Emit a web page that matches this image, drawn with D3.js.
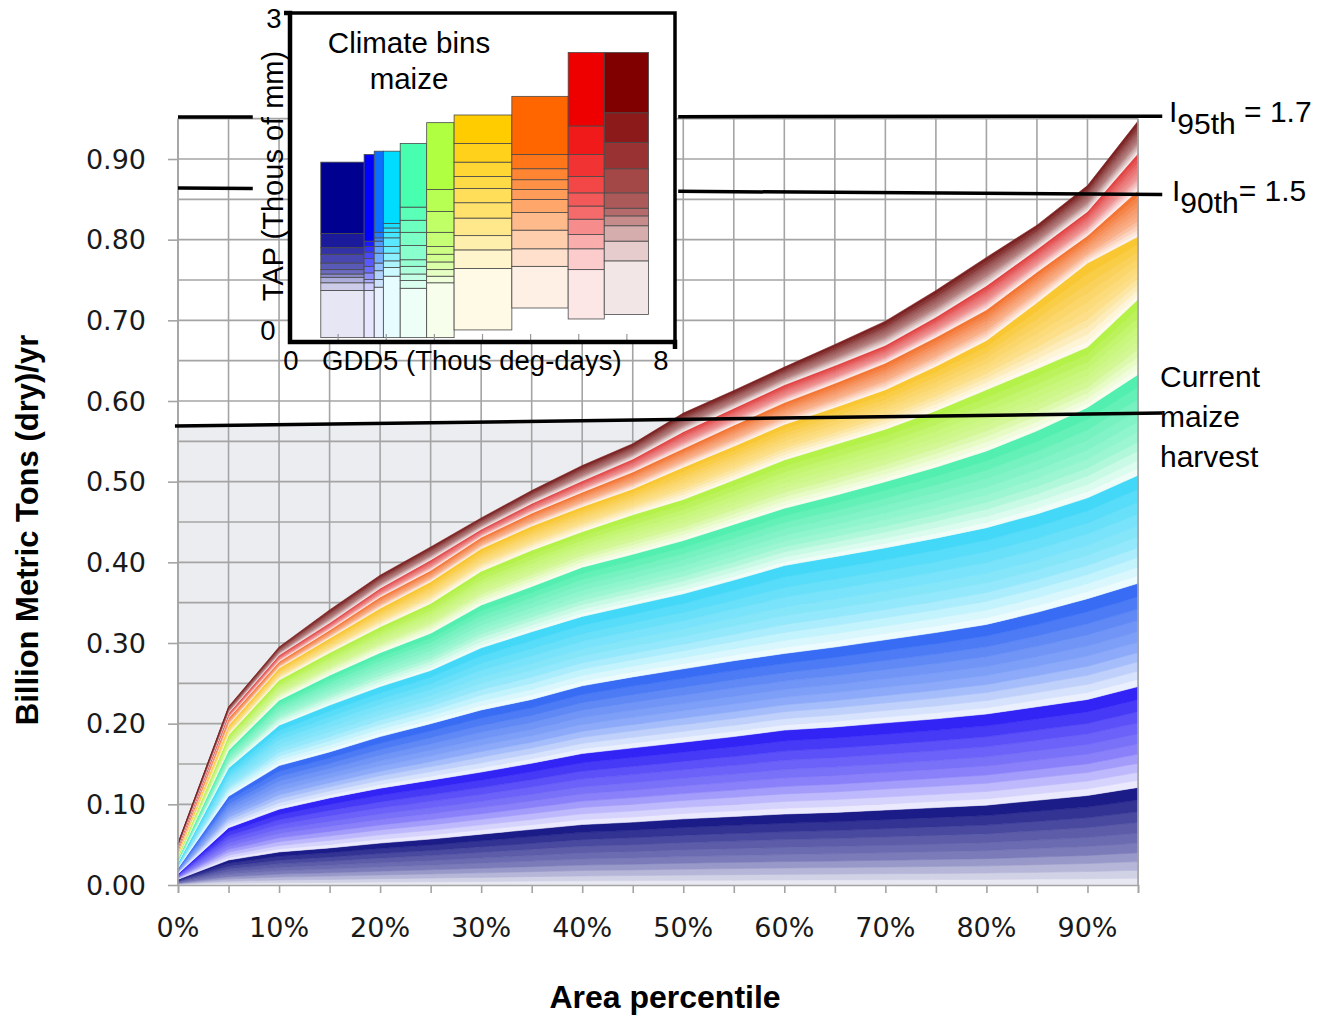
<!DOCTYPE html>
<html>
<head>
<meta charset="utf-8">
<title>Climate bins maize</title>
<script src="https://d3js.org/d3.v7.min.js"></script>
<style>
* { margin: 0; padding: 0; }
body { background: #fff; }
</style>
</head>
<body>
<div class="main"></div>
<script>
// area percentile (x) and yield of each GDD5 group, billion t/yr (layer thickness)
const areaPct = [0, 5, 10, 15, 20, 25, 30, 35, 40, 45, 50, 55, 60, 65, 70, 75, 80, 85, 90, 95];
const yieldNavy   = [.007,.031,.041,.046,.052,.057,.063,.069,.075,.078,.082,.085,.088,.090,.093,.096,.099,.105,.111,.121];
const yieldBlue   = [.007,.040,.053,.062,.068,.073,.077,.082,.088,.092,.095,.099,.104,.106,.108,.110,.113,.116,.119,.125];
const yieldAzure  = [.007,.039,.054,.057,.064,.070,.077,.079,.084,.088,.091,.094,.095,.099,.103,.107,.111,.117,.125,.128];
const yieldCyan   = [.007,.035,.050,.058,.062,.066,.077,.084,.086,.089,.093,.100,.109,.112,.114,.117,.120,.122,.125,.134];
const yieldGreen  = [.005,.022,.031,.037,.042,.046,.053,.056,.061,.063,.066,.069,.071,.076,.082,.088,.095,.103,.112,.125];
const yieldLime   = [.004,.019,.025,.028,.032,.037,.042,.045,.044,.049,.051,.055,.060,.063,.065,.070,.076,.077,.075,.093];
const yieldGold   = [.004,.012,.015,.018,.023,.027,.028,.030,.031,.032,.040,.042,.044,.046,.049,.055,.061,.082,.104,.078];
const yieldOrange = [.004,.009,.008,.010,.014,.014,.014,.016,.018,.021,.023,.026,.027,.030,.033,.036,.038,.038,.034,.057];
const yieldRed    = [.003,.006,.008,.009,.011,.013,.010,.012,.014,.016,.021,.021,.022,.022,.022,.025,.030,.028,.030,.046];
const yieldMaroon = [.004,.008,.010,.016,.016,.016,.014,.016,.019,.019,.023,.022,.022,.026,.030,.033,.035,.030,.032,.040];
// share of each group's yield per TAP bin (driest -> wettest)
const tapShare = [0.07, 0.08, 0.09, 0.09, 0.10, 0.10, 0.11, 0.11, 0.12, 0.13];

// inset: GDD5 bin edges and TAP bin edges for each GDD5 column
const gddEdges = [0.64, 1.54, 1.75, 1.94, 2.29, 2.84, 3.41, 4.61, 5.78, 6.53, 7.45];
const tapNavy   = [0.04, 0.47, 0.54, 0.59, 0.62, 0.66, 0.72, 0.80, 0.86, 0.99, 1.64];
const tapBlue   = [0.04, 0.47, 0.54, 0.57, 0.63, 0.69, 0.76, 0.82, 0.87, 0.92, 1.71];
const tapAzure  = [0.04, 0.50, 0.57, 0.65, 0.72, 0.81, 0.87, 0.92, 0.95, 1.00, 1.74];
const tapCyan   = [0.04, 0.60, 0.68, 0.74, 0.81, 0.87, 0.95, 1.00, 1.04, 1.08, 1.74];
const tapGreen  = [0.04, 0.49, 0.56, 0.62, 0.69, 0.75, 0.88, 1.00, 1.11, 1.23, 1.81];
const tapLime   = [0.04, 0.54, 0.60, 0.66, 0.73, 0.80, 0.87, 1.00, 1.19, 1.39, 2.00];
const tapGold   = [0.11, 0.67, 0.84, 0.97, 1.13, 1.27, 1.40, 1.51, 1.64, 1.81, 2.07];
const tapOrange = [0.31, 0.69, 0.85, 1.02, 1.18, 1.30, 1.39, 1.48, 1.58, 1.71, 2.24];
const tapRed    = [0.21, 0.66, 0.85, 0.98, 1.12, 1.24, 1.36, 1.51, 1.71, 1.97, 2.64];
const tapMaroon = [0.25, 0.74, 0.92, 1.06, 1.15, 1.22, 1.36, 1.58, 1.82, 2.09, 2.64];

const yTicks = [0, 0.1, 0.2, 0.3, 0.4, 0.5, 0.6, 0.7, 0.8, 0.9];
const xTickLabels = ["0%", "10%", "20%", "30%", "40%", "50%", "60%", "70%", "80%", "90%"];

const groupYields = [yieldNavy, yieldBlue, yieldAzure, yieldCyan, yieldGreen, yieldLime, yieldGold, yieldOrange, yieldRed, yieldMaroon];
const tapColumns = [tapNavy, tapBlue, tapAzure, tapCyan, tapGreen, tapLime, tapGold, tapOrange, tapRed, tapMaroon];

// colours
const mainColors  = ["#1c1c88", "#3324f6", "#386cf4", "#44d8f8", "#52efb0", "#b4f24a", "#f9c732", "#f47634", "#e24444", "#7c2222"];
const insetColors = ["#000090", "#0000ff", "#0a70ff", "#00dcff", "#48ffb0", "#b0ff40", "#ffcc00", "#ff6600", "#ee0000", "#800000"];
const fade = [0.9, 0.8, 0.68, 0.55, 0.42, 0.35, 0.28, 0.2, 0.1, 0];

const w = 1325;
const h = 1016;
const svg = d3.select(".main").append("svg").attr("width", w).attr("height", h);

const xScale = d3.scaleLinear().domain([0, 95]).range([178, 1138]);
const yScale = d3.scaleLinear().domain([0, 0.9]).range([885, 159]);

// hand drawn reference lines (data coords)
const harvestLine = [[-0.3, 0.569], [97.4, 0.585]];
const line95 = [[0, 0.952], [97.4, 0.953]];
const line90 = [[0, 0.864], [97.4, 0.856]];
const lineAt = (l, x) => l[0][1] + (l[1][1] - l[0][1]) * (x - l[0][0]) / (l[1][0] - l[0][0]);

// grey area below current harvest
svg.append("polygon")
  .attr("points", [[xScale(0), yScale(lineAt(harvestLine, 0))], [xScale(95), yScale(lineAt(harvestLine, 95))], [xScale(95), yScale(0)], [xScale(0), yScale(0)]].join(" "))
  .attr("fill", "#ecedf0");

// grid
const grid = svg.append("g").attr("stroke", "#a4a4a4").attr("stroke-width", 1.6);
grid.selectAll(".vg").data(areaPct).enter().append("line")
  .attr("x1", d => xScale(d)).attr("x2", d => xScale(d))
  .attr("y1", yScale(0)).attr("y2", yScale(0.95));
grid.selectAll(".hg").data(d3.range(0, 20)).enter().append("line")
  .attr("x1", xScale(0)).attr("x2", xScale(95))
  .attr("y1", d => yScale(d * 0.05)).attr("y2", d => yScale(d * 0.05));

// stacked layers
const keys = [];
groupYields.forEach((g, gi) => tapShare.forEach((s, ti) => keys.push(gi + "_" + ti)));
const table = areaPct.map((p, i) => {
  const row = { pct: p };
  groupYields.forEach((g, gi) => tapShare.forEach((s, ti) => { row[gi + "_" + ti] = g[i] * s; }));
  return row;
});
const series = d3.stack().keys(keys)(table);
const area = d3.area()
  .x(d => xScale(d.data.pct))
  .y0(d => yScale(d[0]))
  .y1(d => yScale(d[1]));
const layerColor = k => {
  const [gi, ti] = k.split("_").map(Number);
  return d3.interpolateRgb(mainColors[gi], "#ffffff")(fade[ti]);
};
svg.append("g").selectAll("path").data(series).enter().append("path")
  .attr("d", area)
  .attr("fill", d => layerColor(d.key))
  .attr("stroke", d => layerColor(d.key))
  .attr("stroke-width", 0.6);

// axes
const xAxis = d3.axisBottom(xScale).tickValues(areaPct).tickSize(8).tickFormat("");
const yAxis = d3.axisLeft(yScale).tickValues(yTicks).tickSize(10).tickFormat("");
svg.append("g").attr("transform", "translate(0,885)").call(xAxis)
  .call(g => g.selectAll("line,path").attr("stroke", "#a4a4a4").attr("stroke-width", 1.6));
svg.append("g").attr("transform", "translate(178,0)").call(yAxis)
  .call(g => g.select(".domain").remove())
  .call(g => g.selectAll("line").attr("stroke", "#a4a4a4").attr("stroke-width", 1.6));
svg.append("line").attr("x1", 178).attr("x2", 178).attr("y1", yScale(0.95)).attr("y2", 885)
  .attr("stroke", "#a4a4a4").attr("stroke-width", 1.6);
svg.append("line").attr("x1", xScale(95)).attr("x2", xScale(95)).attr("y1", yScale(0.95)).attr("y2", 885)
  .attr("stroke", "#a4a4a4").attr("stroke-width", 1.6);

svg.selectAll(".ylab").data(yTicks).enter().append("text")
  .attr("x", 146).attr("y", d => yScale(d)).attr("dy", "0.36em")
  .attr("text-anchor", "end")
  .style("font", "27px 'DejaVu Sans'").attr("fill", "#1a1a1a")
  .text(d => d.toFixed(2));
svg.selectAll(".xlab").data(xTickLabels).enter().append("text")
  .attr("x", (d, i) => xScale(i * 10)).attr("y", 937)
  .attr("text-anchor", "middle")
  .style("font", "27px 'DejaVu Sans'").attr("fill", "#1a1a1a")
  .text(d => d);

svg.append("text").attr("x", 665).attr("y", 1008).attr("text-anchor", "middle")
  .style("font", "bold 32px 'Liberation Sans'").text("Area percentile");
svg.append("text").attr("transform", "translate(38,530) rotate(-90)").attr("text-anchor", "middle")
  .style("font", "bold 31px 'Liberation Sans'").text("Billion Metric Tons (dry)/yr");

// reference lines
const drawSeg = (l, a, b) => svg.append("line")
  .attr("x1", xScale(a)).attr("y1", yScale(lineAt(l, a)))
  .attr("x2", xScale(b)).attr("y2", yScale(lineAt(l, b)))
  .attr("stroke", "#000").attr("stroke-width", 3.5);
drawSeg(line95, 0, 7.4);
drawSeg(line95, 49.5, 97.4);
drawSeg(line90, 0, 7.4);
drawSeg(line90, 49.5, 97.4);
drawSeg(harvestLine, -0.3, 97.4);

// inset
const ix = d3.scaleLinear().domain([0, 8]).range([290, 675]);
const iy = d3.scaleLinear().domain([0, 3]).range([342, 13]);
const inset = svg.append("g");
inset.append("rect").attr("x", 290).attr("y", 13).attr("width", 385).attr("height", 329).attr("fill", "#fff");

tapColumns.forEach((edges, c) => {
  inset.selectAll(".c" + c).data(d3.range(10)).enter().append("rect")
    .attr("x", ix(gddEdges[c]))
    .attr("width", ix(gddEdges[c + 1]) - ix(gddEdges[c]))
    .attr("y", j => iy(edges[j + 1]))
    .attr("height", j => iy(edges[j]) - iy(edges[j + 1]))
    .attr("fill", j => d3.interpolateRgb(insetColors[c], "#ffffff")(fade[j]))
    .attr("stroke", "#4a4a4a").attr("stroke-width", 0.8);
});
inset.selectAll(".itick").data(d3.range(1, 8)).enter().append("line")
  .attr("x1", d => ix(d)).attr("x2", d => ix(d)).attr("y1", 342).attr("y2", 334)
  .attr("stroke", "#999").attr("stroke-width", 1.2);
inset.append("path").attr("d", "M290,13H675V342").attr("fill", "none").attr("stroke", "#000").attr("stroke-width", 3.5);
inset.append("path").attr("d", "M284,13H290V342H675V349").attr("fill", "none").attr("stroke", "#000").attr("stroke-width", 4.5);

const f27 = "27.5px 'Liberation Sans'";
const fTitle = "29.5px 'Liberation Sans'";
inset.append("text").attr("x", 409).attr("y", 53).attr("text-anchor", "middle").style("font", fTitle).text("Climate bins");
inset.append("text").attr("x", 409).attr("y", 89).attr("text-anchor", "middle").style("font", fTitle).text("maize");
inset.append("text").attr("x", 274).attr("y", 28).attr("text-anchor", "middle").style("font", f27).text("3");
inset.append("text").attr("x", 268).attr("y", 340).attr("text-anchor", "middle").style("font", f27).text("0");
inset.append("text").attr("x", 291).attr("y", 370).attr("text-anchor", "middle").style("font", f27).text("0");
inset.append("text").attr("x", 661).attr("y", 370).attr("text-anchor", "middle").style("font", f27).text("8");
inset.append("text").attr("x", 322).attr("y", 370).style("font", f27).text("GDD5 (Thous deg-days)");
inset.append("text").attr("transform", "translate(283,176) rotate(-90)").attr("text-anchor", "middle")
  .style("font", "29px 'Liberation Sans'").text("TAP (Thous of mm)");

// labels on the right
const f30 = "30px 'Liberation Sans'";
const t95 = svg.append("text").attr("x", 1169).attr("y", 122).style("font", f30);
t95.append("tspan").text("I");
t95.append("tspan").attr("dy", 12).text("95th");
t95.append("tspan").attr("dy", -12).text(" = 1.7");
const t90 = svg.append("text").attr("x", 1172).attr("y", 201).style("font", f30);
t90.append("tspan").text("I");
t90.append("tspan").attr("dy", 12).text("90th");
t90.append("tspan").attr("dy", -12).text("= 1.5");
["Current", "maize", "harvest"].forEach((s, i) => {
  svg.append("text").attr("x", 1160).attr("y", 387 + i * 40).style("font", f30).text(s);
});
</script>
</body>
</html>
